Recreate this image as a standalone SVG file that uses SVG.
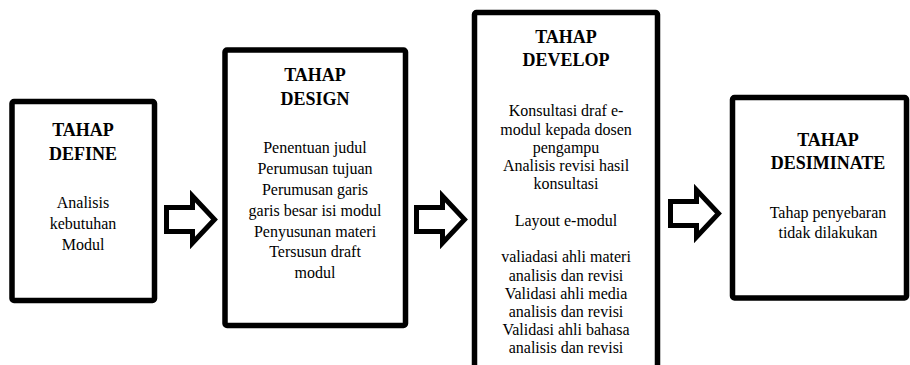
<svg xmlns="http://www.w3.org/2000/svg" width="910" height="365" viewBox="0 0 910 365">
<style>
.box{fill:#fff;stroke:#000;stroke-width:5.5;stroke-linejoin:round}
.ttl{font-family:"Liberation Serif","Times New Roman",serif;font-size:18px;font-weight:bold;text-anchor:middle;fill:#000}
.bd{font-family:"Liberation Serif","Times New Roman",serif;font-size:16px;text-anchor:middle;fill:#000}
.arr{fill:#fff;stroke:#000;stroke-width:5;stroke-linejoin:miter;stroke-miterlimit:10}
</style>
<defs>
<path id="arrow" d="M0,0 H26 V-11.5 L48,12 L26,35.5 V24 H0 Z"/>
</defs>
<rect width="910" height="365" fill="#fff"/>
<g id="define">
<rect class="box" x="12" y="101.5" width="142.5" height="199" rx="2"/>
<text class="ttl" x="83" y="136">TAHAP</text>
<text class="ttl" x="83" y="159.5">DEFINE</text>
<text class="bd" x="83" y="208">Analisis</text>
<text class="bd" x="83" y="229">kebutuhan</text>
<text class="bd" x="83" y="250">Modul</text>
</g>
<g id="design">
<rect class="box" x="225" y="50" width="180.5" height="275.5" rx="2"/>
<text class="ttl" x="315" y="81">TAHAP</text>
<text class="ttl" x="315" y="105">DESIGN</text>
<text class="bd" x="315" y="153">Penentuan judul</text>
<text class="bd" x="315" y="174">Perumusan tujuan</text>
<text class="bd" x="315" y="195">Perumusan garis</text>
<text class="bd" x="315" y="215.5">garis besar isi modul</text>
<text class="bd" x="315" y="236.5">Penyusunan materi</text>
<text class="bd" x="315" y="257">Tersusun draft</text>
<text class="bd" x="315" y="278">modul</text>
</g>
<g id="develop">
<rect class="box" x="474.5" y="12.5" width="183" height="400" rx="2"/>
<text class="ttl" x="566" y="43">TAHAP</text>
<text class="ttl" x="566" y="66">DEVELOP</text>
<text class="bd" x="566" y="116">Konsultasi draf e-</text>
<text class="bd" x="566" y="134.5">modul kepada dosen</text>
<text class="bd" x="566" y="153">pengampu</text>
<text class="bd" x="566" y="171">Analisis revisi hasil</text>
<text class="bd" x="566" y="189">konsultasi</text>
<text class="bd" x="566" y="226">Layout e-modul</text>
<text class="bd" x="566" y="262">valiadasi ahli materi</text>
<text class="bd" x="566" y="280.5">analisis dan revisi</text>
<text class="bd" x="566" y="298.5">Validasi ahli media</text>
<text class="bd" x="566" y="317">analisis dan revisi</text>
<text class="bd" x="566" y="335">Validasi ahli bahasa</text>
<text class="bd" x="566" y="353">analisis dan revisi</text>
</g>
<g id="desiminate">
<rect class="box" x="732.5" y="97.5" width="174" height="200.5" rx="2"/>
<text class="ttl" x="828" y="146">TAHAP</text>
<text class="ttl" x="828" y="169">DESIMINATE</text>
<text class="bd" x="828" y="218">Tahap penyebaran</text>
<text class="bd" x="828" y="238">tidak dilakukan</text>
</g>
<g id="connectors">
<use href="#arrow" class="arr" transform="translate(166.5,207.5)"/>
<use href="#arrow" class="arr" transform="translate(416.5,207.5)"/>
<use href="#arrow" class="arr" transform="translate(670.5,201.5)"/>
</g>
</svg>
